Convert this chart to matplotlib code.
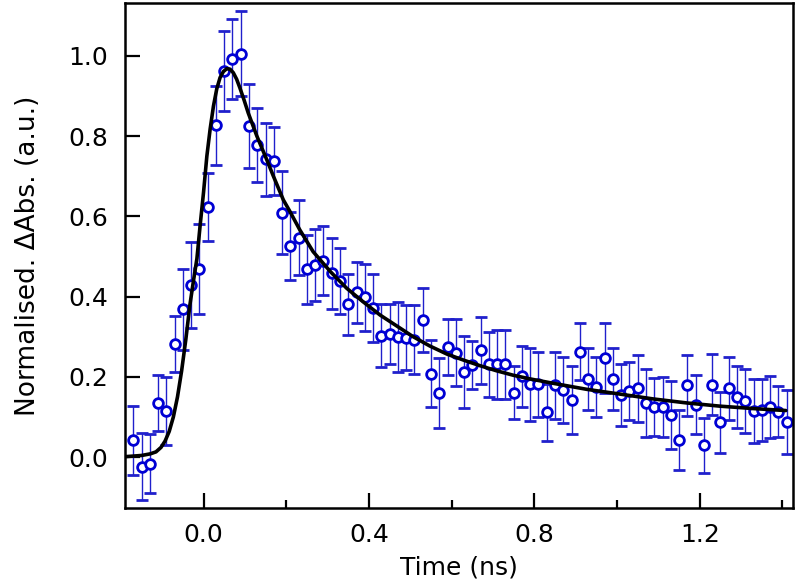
import numpy as np
import matplotlib
matplotlib.use("Agg")
import matplotlib.pyplot as plt
from matplotlib.ticker import MultipleLocator

# time delays (ns)
time_ns = [-0.17, -0.15, -0.13, -0.11, -0.09, -0.07, -0.05, -0.03, -0.01, 0.01,
           0.03, 0.05, 0.07, 0.09, 0.11, 0.13, 0.15, 0.17, 0.19, 0.21,
           0.23, 0.25, 0.27, 0.29, 0.31, 0.33, 0.35, 0.37, 0.39, 0.41,
           0.43, 0.45, 0.47, 0.49, 0.51, 0.53, 0.55, 0.57, 0.59, 0.61,
           0.63, 0.65, 0.67, 0.69, 0.71, 0.73, 0.75, 0.77, 0.79, 0.81,
           0.83, 0.85, 0.87, 0.89, 0.91, 0.93, 0.95, 0.97, 0.99, 1.01,
           1.03, 1.05, 1.07, 1.09, 1.11, 1.13, 1.15, 1.17, 1.19, 1.21,
           1.23, 1.25, 1.27, 1.29, 1.31, 1.33, 1.35, 1.37, 1.39, 1.41]

dabs = [0.042, -0.024, -0.016, 0.135, 0.115, 0.282, 0.368, 0.429, 0.468, 0.623,
        0.827, 0.962, 0.993, 1.005, 0.825, 0.778, 0.742, 0.739, 0.609, 0.526,
        0.547, 0.468, 0.479, 0.490, 0.458, 0.439, 0.381, 0.411, 0.398, 0.372,
        0.303, 0.307, 0.299, 0.298, 0.293, 0.342, 0.208, 0.160, 0.274, 0.260,
        0.213, 0.230, 0.266, 0.231, 0.231, 0.231, 0.160, 0.202, 0.181, 0.181,
        0.112, 0.179, 0.167, 0.142, 0.263, 0.195, 0.175, 0.247, 0.195, 0.155,
        0.165, 0.171, 0.135, 0.125, 0.125, 0.104, 0.042, 0.179, 0.131, 0.029,
        0.180, 0.087, 0.171, 0.150, 0.140, 0.115, 0.117, 0.125, 0.113, 0.087]

dabs_err = [0.086, 0.084, 0.074, 0.069, 0.084, 0.070, 0.100, 0.108, 0.112, 0.085,
            0.098, 0.100, 0.100, 0.106, 0.105, 0.092, 0.090, 0.085, 0.104, 0.084,
            0.093, 0.086, 0.089, 0.087, 0.089, 0.082, 0.076, 0.076, 0.084, 0.084,
            0.078, 0.074, 0.087, 0.080, 0.085, 0.079, 0.084, 0.087, 0.070, 0.083,
            0.090, 0.060, 0.084, 0.081, 0.085, 0.085, 0.066, 0.076, 0.090, 0.080,
            0.071, 0.083, 0.083, 0.085, 0.070, 0.077, 0.074, 0.088, 0.077, 0.077,
            0.072, 0.084, 0.085, 0.073, 0.074, 0.085, 0.075, 0.076, 0.073, 0.069,
            0.076, 0.076, 0.079, 0.078, 0.080, 0.079, 0.077, 0.078, 0.064, 0.080]

# fitted curve, points
fit_t = [-0.19, -0.15, -0.129, -0.115, -0.103, -0.093, -0.083, -0.073, -0.063, -0.053,
         -0.043, -0.033, -0.025, -0.016, -0.008, 0.0, 0.008, 0.016, 0.024, 0.032,
         0.040, 0.048, 0.056, 0.064, 0.072, 0.080, 0.088, 0.098, 0.108, 0.129,
         0.153, 0.169, 0.193, 0.209, 0.233, 0.265, 0.307, 0.346, 0.386, 0.427,
         0.467, 0.507, 0.547, 0.588, 0.628, 0.668, 0.709, 0.749, 0.789, 0.845,
         0.926, 1.007, 1.087, 1.168, 1.248, 1.328, 1.408]
fit_y = [0.001, 0.004, 0.008, 0.013, 0.024, 0.040, 0.064, 0.100, 0.150, 0.215,
         0.292, 0.379, 0.435, 0.495, 0.580, 0.660, 0.750, 0.818, 0.875, 0.918,
         0.946, 0.961, 0.968, 0.967, 0.958, 0.942, 0.920, 0.890, 0.858, 0.800,
         0.741, 0.700, 0.641, 0.612, 0.566, 0.512, 0.462, 0.421, 0.387, 0.354,
         0.327, 0.300, 0.277, 0.257, 0.242, 0.228, 0.215, 0.204, 0.195, 0.184,
         0.169, 0.157, 0.145, 0.135, 0.127, 0.121, 0.116]

blue = '#0000d4'

fig = plt.figure(figsize=(7.96, 5.88), dpi=100)
ax = fig.add_axes([0.157, 0.136, 0.839, 0.859])

ax.errorbar(time_ns, dabs, yerr=dabs_err, fmt='o', color=blue, ecolor='#2020cc',
            elinewidth=1.0, capsize=4, capthick=1.0, markersize=7,
            markerfacecolor='white', markeredgewidth=2.0, zorder=2)
ax.plot(fit_t, fit_y, color='black', lw=2.6, solid_capstyle='round',
        solid_joinstyle='round', zorder=3)

ax.set_xlim(-0.19, 1.425)
ax.set_ylim(-0.127, 1.132)
ax.xaxis.set_major_locator(MultipleLocator(0.4))
ax.xaxis.set_minor_locator(MultipleLocator(0.2))
ax.yaxis.set_major_locator(MultipleLocator(0.2))
ax.tick_params(which='both', direction='in', width=1.6, labelsize=18)
ax.tick_params(which='major', length=11)
ax.tick_params(which='minor', length=6)
ax.tick_params(axis='x', pad=11)
ax.tick_params(axis='y', pad=12)
ax.xaxis.set_major_formatter(plt.FormatStrFormatter('%.1f'))
ax.yaxis.set_major_formatter(plt.FormatStrFormatter('%.1f'))
for s in ax.spines.values():
    s.set_linewidth(1.8)

ax.set_xlabel('Time (ns)', fontsize=18, labelpad=6)
ax.set_ylabel('Normalised. \u0394Abs. (a.u.)', fontsize=19, labelpad=20)

plt.savefig('out.png', dpi=100)
